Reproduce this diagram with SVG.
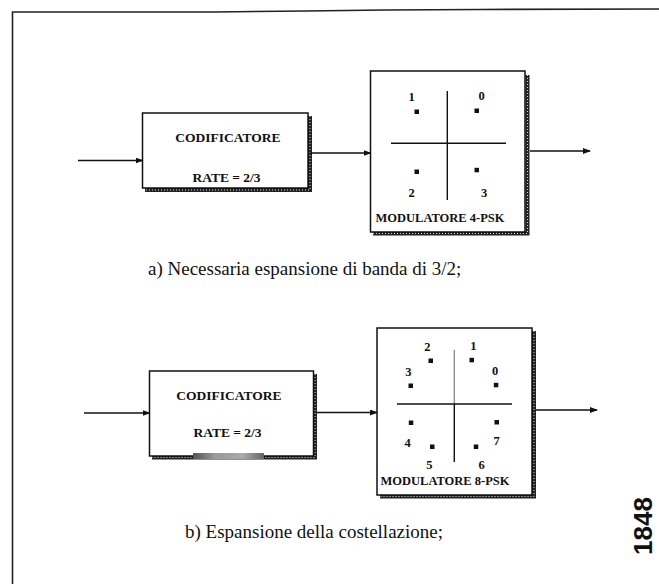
<svg xmlns="http://www.w3.org/2000/svg" width="659" height="584" viewBox="0 0 659 584">
<style>
.box{fill:#fff;stroke:#111;stroke-width:1.5}
.sh{stroke:#222;stroke-width:4;fill:none}
.shd{stroke:#ddd;stroke-width:1;stroke-dasharray:1 2;fill:none}
.ax{stroke:#111;stroke-width:1.4}
.dot{fill:#111}
.lbl{font-family:"Liberation Serif","Times New Roman",serif;font-weight:bold;fill:#111;text-anchor:middle}
.num{font-family:"Liberation Serif","Times New Roman",serif;font-weight:bold;font-size:12.5px;fill:#111;text-anchor:middle}
.cap{font-family:"Liberation Serif","Times New Roman",serif;font-size:19px;fill:#111}
.conn{stroke:#111;stroke-width:1.4;fill:none;marker-end:url(#ah)}
</style>
<defs>
<marker id="ah" markerWidth="8" markerHeight="6" refX="7" refY="3" orient="auto" markerUnits="userSpaceOnUse">
<path d="M0,0 L8,3 L0,6 Z" fill="#111"/>
</marker>
<linearGradient id="smear" x1="0" y1="0" x2="1" y2="0">
<stop offset="0" stop-color="#555"/>
<stop offset="0.3" stop-color="#999"/>
<stop offset="0.7" stop-color="#aaa"/>
<stop offset="1" stop-color="#666"/>
</linearGradient>
</defs>
<rect width="659" height="584" fill="#fff"/>
<g id="frame" fill="none" stroke="#222" stroke-width="1.6">
<polyline points="12.5,584 12.5,12 215,12 305,11 385,10 480,9.5 659,9"/>
</g>
<g id="coder-a">
<path class="sh" d="M310,116 V190 H145"/>
<path class="shd" d="M310,116 V190 H145"/>
<rect class="box" x="142.5" y="113" width="165.5" height="75"/>
<text class="lbl" x="228" y="141.5" font-size="13.5">CODIFICATORE</text>
<text class="lbl" x="226.5" y="181.5" font-size="13.5">RATE = 2/3</text>
</g>
<g id="mod-a">
<path class="sh" d="M527.5,75 V233.5 H373"/>
<path class="shd" d="M527.5,75 V233.5 H373"/>
<rect class="box" x="370.5" y="71" width="154.5" height="161"/>
<line class="ax" x1="447.3" y1="91" x2="447.3" y2="200"/>
<line class="ax" x1="391" y1="143.3" x2="506" y2="143.3"/>
<rect class="dot" x="414.5" y="109.5" width="4.5" height="4.5"/>
<rect class="dot" x="474.5" y="108.5" width="4.5" height="4.5"/>
<rect class="dot" x="414.5" y="169.5" width="4.5" height="4.5"/>
<rect class="dot" x="474.5" y="167.8" width="4.5" height="4.5"/>
<text class="num" x="411.7" y="101">1</text>
<text class="num" x="481.7" y="99.5">0</text>
<text class="num" x="411.7" y="197">2</text>
<text class="num" x="484" y="197">3</text>
<text class="lbl" x="440" y="221.5" font-size="12.5">MODULATORE 4-PSK</text>
</g>
<g id="coder-b">
<path class="sh" d="M315,374 V457.5 H152"/>
<path class="shd" d="M315,374 V457.5 H152"/>
<rect class="box" x="149.5" y="371" width="164" height="85"/>
<rect x="193" y="453" width="71" height="6" fill="url(#smear)"/>
<text class="lbl" x="229" y="400" font-size="13.5">CODIFICATORE</text>
<text class="lbl" x="227.5" y="437" font-size="13.5">RATE = 2/3</text>
</g>
<g id="mod-b">
<path class="sh" d="M534,331 V496.5 H380"/>
<path class="shd" d="M534,331 V496.5 H380"/>
<rect class="box" x="377" y="328" width="155" height="167"/>
<line x1="454.3" y1="350" x2="454.3" y2="404" stroke="#888" stroke-width="1.3"/>
<line class="ax" x1="454.3" y1="404" x2="454.3" y2="462"/>
<line class="ax" x1="397" y1="404" x2="512" y2="404"/>
<rect class="dot" x="428.5" y="358.5" width="4.5" height="4.5"/>
<rect class="dot" x="469.5" y="357.8" width="4.5" height="4.5"/>
<rect class="dot" x="408.5" y="383.5" width="4.5" height="4.5"/>
<rect class="dot" x="493.8" y="382.8" width="4.5" height="4.5"/>
<rect class="dot" x="408.8" y="420.5" width="4.5" height="4.5"/>
<rect class="dot" x="494.5" y="420" width="4.5" height="4.5"/>
<rect class="dot" x="430" y="444.5" width="4.5" height="4.5"/>
<rect class="dot" x="473.8" y="444.5" width="4.5" height="4.5"/>
<text class="num" x="427.3" y="350.5">2</text>
<text class="num" x="473.3" y="349.5">1</text>
<text class="num" x="408.3" y="375.5">3</text>
<text class="num" x="495" y="374.5">0</text>
<text class="num" x="407.7" y="446.8">4</text>
<text class="num" x="496.7" y="445.2">7</text>
<text class="num" x="429.3" y="468.8">5</text>
<text class="num" x="481.7" y="468.8">6</text>
<text class="lbl" x="445" y="484.5" font-size="12.5">MODULATORE 8-PSK</text>
</g>
<g id="connectors">
<path class="conn" d="M78,160.5 H142.5"/>
<path class="conn" d="M310,153 H370.5"/>
<path class="conn" d="M530,151 H590"/>
<path class="conn" d="M84,413 H149.5"/>
<path class="conn" d="M317,412.5 H377"/>
<path class="conn" d="M536,410 H597"/>
</g>
<g id="captions">
<text class="cap" x="148" y="275">a) Necessaria espansione di banda di 3/2;</text>
<text class="cap" x="185" y="538">b) Espansione della costellazione;</text>
<text x="0" y="0" transform="translate(652,526) rotate(-90)" font-family="Liberation Sans,Arial,sans-serif" font-weight="bold" font-size="26" fill="#111" text-anchor="middle">1848</text>
</g>
</svg>
